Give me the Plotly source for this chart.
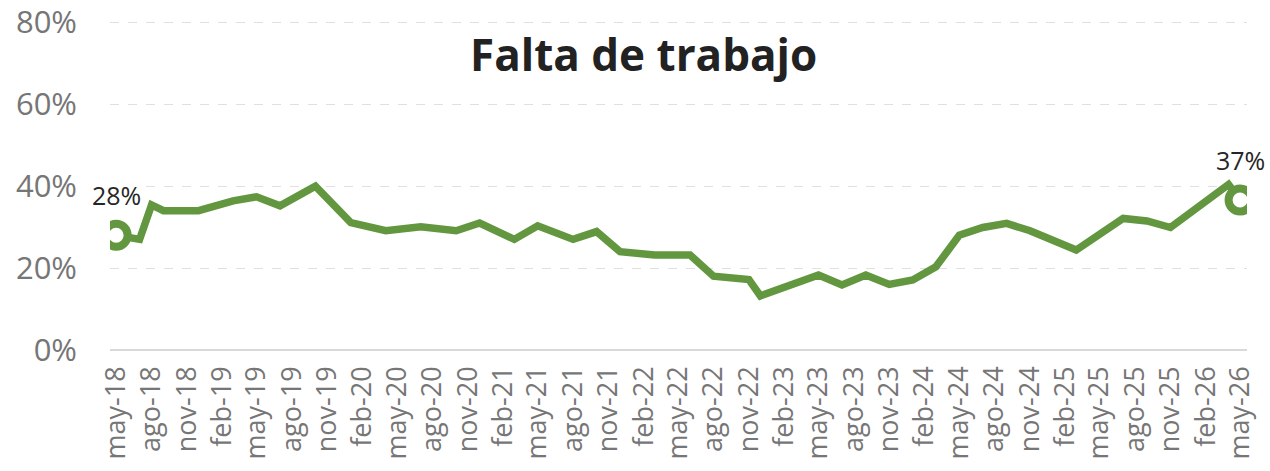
import plotly.graph_objects as go

dates = ["2018-05-01", "2018-07-01", "2018-08-01", "2018-09-01", "2018-12-01",
         "2019-03-01", "2019-05-01", "2019-07-01", "2019-10-01", "2020-01-01",
         "2020-04-01", "2020-07-01", "2020-10-01", "2020-12-01", "2021-03-01",
         "2021-05-01", "2021-08-01", "2021-10-01", "2021-12-01", "2022-03-01",
         "2022-06-01", "2022-08-01", "2022-11-01", "2022-12-01", "2023-05-01",
         "2023-07-01", "2023-09-01", "2023-11-01", "2024-01-01", "2024-03-01",
         "2024-05-01", "2024-07-01", "2024-09-01", "2024-11-01", "2025-03-01",
         "2025-07-01", "2025-09-01", "2025-11-01", "2026-04-01", "2026-05-01"]
values = [28.0, 27.0, 35.4, 34.0, 34.0,
          36.4, 37.4, 35.2, 40.0, 31.1,
          29.1, 30.1, 29.1, 31.0, 27.0,
          30.3, 27.0, 28.9, 24.0, 23.2,
          23.2, 18.0, 17.2, 13.2, 18.3,
          15.9, 18.3, 16.0, 17.1, 20.3,
          28.0, 29.9, 30.9, 29.1, 24.4,
          32.1, 31.5, 29.9, 40.4, 36.6]

tick_dates = []
tick_labels = []
month_names = {2: "feb", 5: "may", 8: "ago", 11: "nov"}
y, m = 2018, 5
while (y, m) <= (2026, 5):
    tick_dates.append(f"{y}-{m:02d}-01")
    tick_labels.append(f"{month_names[m]}-{str(y)[2:]}")
    m += 3
    if m > 12:
        m -= 12
        y += 1

y_ticks = [0, 20, 40, 60, 80]
y_labels = ["0%", "20%", "40%", "60%", "80%"]

green = "#629740"
font = "Open Sans"

fig = go.Figure()
fig.add_trace(go.Scatter(x=dates, y=values, mode="lines",
                         line=dict(color=green, width=7.5), hoverinfo="skip"))
fig.add_trace(go.Scatter(x=[dates[0], dates[-1]], y=[values[0], values[-1]],
                         mode="markers",
                         marker=dict(size=23, color="white",
                                     line=dict(color=green, width=8)),
                         hoverinfo="skip"))

for i in (0, -1):
    fig.add_annotation(x=dates[i], y=values[i], text=f"{round(values[i])}%",
                       showarrow=False, yshift=40, bgcolor="white",
                       font=dict(family=font, size=25, color="#262626"))

fig.add_annotation(x=0.469, y=0.9, xref="paper", yref="paper",
                   text="<b>Falta de trabajo</b>", showarrow=False,
                   xanchor="center", yanchor="middle",
                   font=dict(family=font, size=44, color="#222222"))

fig.update_layout(
    width=1270, height=471,
    margin=dict(l=110, r=23, t=21, b=121),
    paper_bgcolor="white", plot_bgcolor="white",
    showlegend=False,
    font=dict(family=font, color="#767676"),
)
fig.update_xaxes(type="date", range=["2018-04-15", "2026-05-19"],
                 tickvals=tick_dates, ticktext=tick_labels, tickangle=-90,
                 tickfont=dict(family=font, size=27, color="#767676"),
                 showgrid=False, showline=False, zeroline=False, ticks="",
                 ticklabelstandoff=10, automargin=False)
fig.update_yaxes(range=[0, 80.3], tickvals=y_ticks, ticktext=y_labels,
                 tickfont=dict(family=font, size=31, color="#767676"),
                 showgrid=True, gridcolor="#e0e0e0", griddash="dash", gridwidth=1,
                 zeroline=True, zerolinecolor="#d9d9d9", zerolinewidth=2,
                 showline=False, ticks="", ticklabelstandoff=32, automargin=False)

fig.write_html("out.html", config={"displayModeBar": False},
               post_script="document.body.style.margin='0px';document.body.style.overflow='hidden';")
